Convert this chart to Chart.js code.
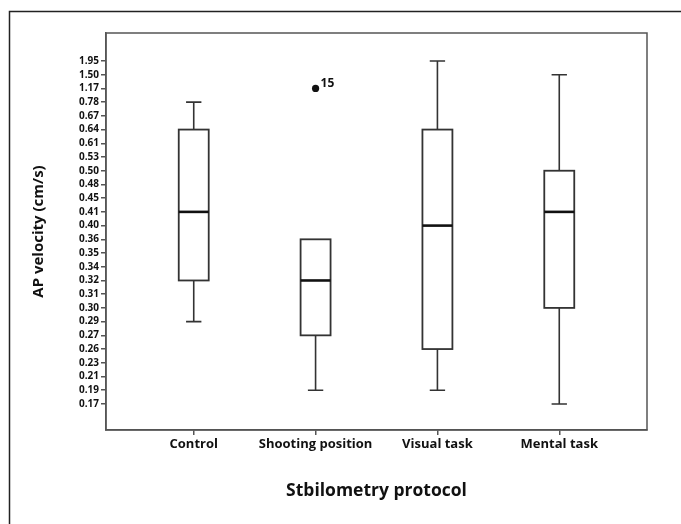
<!DOCTYPE html>
<html>
<head>
<meta charset="utf-8">
<script src="https://cdn.jsdelivr.net/npm/chart.js@4.4.0/dist/chart.umd.min.js"></script>
<style>
    html, body { margin: 0; padding: 0; background: #fff; }
    #wrap { width: 681px; height: 524px; position: relative; }
</style>
</head>
<body>
<div id="wrap"><canvas id="box-chart"></canvas></div>
<script>
    "use strict";

    // ordinal axis: SPSS lists each observed value as its own step
    var yTickLabels = ["0.17", "0.19", "0.21", "0.23", "0.26", "0.27", "0.29", "0.30", "0.31",
        "0.32", "0.34", "0.35", "0.36", "0.40", "0.41", "0.45", "0.48", "0.50", "0.53",
        "0.61", "0.64", "0.67", "0.78", "1.17", "1.50", "1.95"];

    var categories = ["Control", "Shooting position", "Visual task", "Mental task"];
    var whiskerLow = [0.29, 0.19, 0.19, 0.17];
    var q1 = [0.32, 0.27, 0.26, 0.30];
    var medians = [0.41, 0.32, 0.40, 0.41];
    var q3 = [0.64, 0.36, 0.64, 0.50];
    var whiskerHigh = [0.78, 0.36, 1.95, 1.50];

    var outlierCat = [1];
    var outlierValues = [1.17];
    var outlierLabels = ["15"];

    function rank(v) {
        return yTickLabels.indexOf(v.toFixed(2));
    }

    var lineColor = "#333333";
    var fontFamily = "'Open Sans', 'DejaVu Sans', sans-serif";

    var frame = {
        id: "frame",
        beforeDraw: function (chart) {
            var ctx = chart.ctx;
            ctx.save();
            ctx.fillStyle = "#fff";
            ctx.fillRect(0, 0, chart.width, chart.height);
            ctx.strokeStyle = "#222";
            ctx.lineWidth = 1.5;
            ctx.strokeRect(9.5, 11.5, chart.width + 10, chart.height + 10);
            ctx.restore();
        },
        afterDraw: function (chart) {
            var a = chart.chartArea;
            var ctx = chart.ctx;
            ctx.save();
            ctx.strokeStyle = "#555";
            ctx.lineWidth = 1.5;
            ctx.strokeRect(a.left, a.top, a.right - a.left, a.bottom - a.top);
            ctx.restore();
        }
    };

    var boxPlot = {
        id: "boxPlot",
        afterDatasetsDraw: function (chart) {
            var ctx = chart.ctx;
            var xs = chart.scales.x;
            var ys = chart.scales.y;
            ctx.save();
            ctx.strokeStyle = lineColor;
            for (var i = 0; i < categories.length; i++) {
                var x = xs.getPixelForValue(i);
                var half = xs.getPixelForValue(i + 0.123) - x;
                var cap = xs.getPixelForValue(i + 0.063) - x;
                var yLo = ys.getPixelForValue(rank(whiskerLow[i]));
                var yQ1 = ys.getPixelForValue(rank(q1[i]));
                var yMed = ys.getPixelForValue(rank(medians[i]));
                var yQ3 = ys.getPixelForValue(rank(q3[i]));
                var yHi = ys.getPixelForValue(rank(whiskerHigh[i]));

                ctx.lineWidth = 1.6;
                ctx.beginPath();
                // whiskers
                if (yLo > yQ1) {
                    ctx.moveTo(x, yQ1); ctx.lineTo(x, yLo);
                    ctx.moveTo(x - cap, yLo); ctx.lineTo(x + cap, yLo);
                }
                if (yHi < yQ3) {
                    ctx.moveTo(x, yQ3); ctx.lineTo(x, yHi);
                    ctx.moveTo(x - cap, yHi); ctx.lineTo(x + cap, yHi);
                }
                ctx.stroke();

                ctx.lineWidth = 1.8;
                ctx.strokeRect(x - half, yQ3, half * 2, yQ1 - yQ3);

                ctx.lineWidth = 2.6;
                ctx.strokeStyle = "#111";
                ctx.beginPath();
                ctx.moveTo(x - half, yMed); ctx.lineTo(x + half, yMed);
                ctx.stroke();
                ctx.strokeStyle = lineColor;
            }

            ctx.fillStyle = "#111";
            ctx.font = "bold 12px " + fontFamily;
            ctx.textAlign = "left";
            ctx.textBaseline = "bottom";
            for (var j = 0; j < outlierCat.length; j++) {
                var px = xs.getPixelForValue(outlierCat[j]);
                var py = ys.getPixelForValue(rank(outlierValues[j]));
                ctx.fillText(outlierLabels[j], px + 5, py + 1);
            }
            ctx.restore();
        }
    };

    var outlierPoints = [];
    for (var k = 0; k < outlierCat.length; k++) {
        outlierPoints.push({x: outlierCat[k], y: rank(outlierValues[k])});
    }

    var ctx1 = document.getElementById("box-chart").getContext("2d");
    var myChart1 = new Chart(ctx1, {
        type: "scatter",
        data: {
            datasets: [{
                label: "Outliers",
                data: outlierPoints,
                pointRadius: 3.6,
                pointBackgroundColor: "#111",
                pointBorderColor: "#111",
                pointBorderWidth: 0
            }]
        },
        options: {
            responsive: true,
            maintainAspectRatio: false,
            animation: false,
            layout: {
                padding: {left: 30, top: 33, right: 34, bottom: 0}
            },
            plugins: {
                legend: {display: false},
                tooltip: {enabled: false}
            },
            scales: {
                x: {
                    type: "linear",
                    min: -0.72,
                    max: 3.72,
                    afterBuildTicks: function (axis) {
                        axis.ticks = categories.map(function (c, i) { return {value: i}; });
                    },
                    afterFit: function (axis) {
                        axis.height = 94;
                    },
                    grid: {
                        drawOnChartArea: false,
                        drawTicks: true,
                        tickLength: 5,
                        color: "#555",
                        lineWidth: 1.5
                    },
                    border: {color: "#555", width: 1.5},
                    ticks: {
                        color: "#111",
                        padding: 1,
                        maxRotation: 0,
                        font: {family: fontFamily, size: 13, weight: "bold"},
                        callback: function (value) {
                            return categories[value];
                        }
                    },
                    title: {
                        display: true,
                        text: "Stbilometry protocol",
                        color: "#111",
                        font: {family: fontFamily, size: 17.5, weight: "bold"},
                        padding: {top: 0, bottom: 22}
                    }
                },
                y: {
                    type: "linear",
                    min: -1.9,
                    max: 27.04,
                    afterBuildTicks: function (axis) {
                        axis.ticks = yTickLabels.map(function (l, i) { return {value: i}; });
                    },
                    afterFit: function (axis) {
                        axis.width = 76;
                    },
                    grid: {
                        drawOnChartArea: false,
                        drawTicks: true,
                        tickLength: 5,
                        color: "#555",
                        lineWidth: 1.5
                    },
                    border: {color: "#555", width: 1.5},
                    ticks: {
                        color: "#111",
                        padding: 2,
                        autoSkip: false,
                        font: {family: fontFamily, size: 10, weight: "bold"},
                        callback: function (value) {
                            return yTickLabels[value];
                        }
                    },
                    title: {
                        display: true,
                        text: "AP velocity (cm/s)",
                        color: "#111",
                        font: {family: fontFamily, size: 15, weight: "bold"},
                        padding: {top: 0, bottom: 4}
                    }
                }
            }
        },
        plugins: [frame, boxPlot]
    });
</script>
</body>
</html>
